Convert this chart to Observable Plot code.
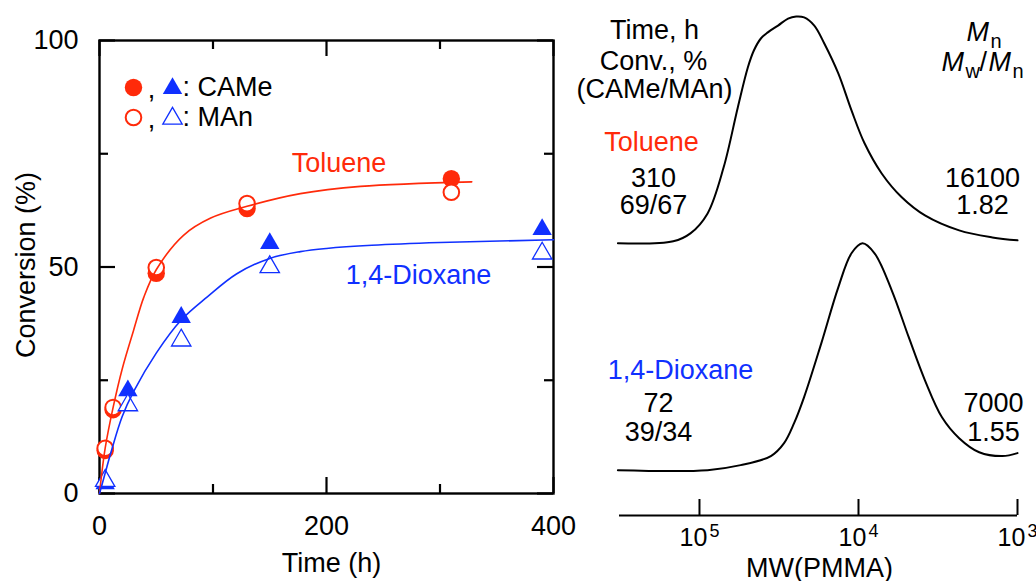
<!DOCTYPE html>
<html><head><meta charset="utf-8">
<script src="https://cdn.jsdelivr.net/npm/d3@7"></script>
<script src="https://cdn.jsdelivr.net/npm/@observablehq/plot@0.6"></script>
<style>
html,body{margin:0;padding:0;background:#fff;}
#chart{position:relative;width:1036px;height:581px;overflow:hidden;background:#fff;}
#chart svg{position:absolute;top:0;}
</style></head><body><div id="chart"></div>
<script>
// ---------- Left panel data: conversion vs time ----------
const tolTime = [5, 12, 50, 130, 310];
const tolCAMe = [9.5, 18.5, 48.6, 62.9, 69.5];
const tolMAn  = [10, 19, 49.9, 64, 66.5];
const dioxTime = [5, 25, 72, 150, 390];
const dioxCAMe = [2.2, 22.7, 38.9, 55.2, 58.3];
const dioxMAn  = [2.8, 19.5, 33.8, 50, 53];
// fitted curves
const tolFitTime = [0, 5, 12, 20, 30, 39, 50, 74, 98, 130, 177, 230, 328];
const tolFitConv = [0, 10, 19, 27.5, 36, 43.3, 49.4, 57, 60.8, 63.4, 66.2, 67.8, 68.8];
const dioxFitTime = [0, 5, 10, 20, 30, 50, 72, 95, 121, 150, 177, 200, 240, 300, 400];
const dioxFitConv = [0, 4.5, 9, 17, 22.5, 31, 38.3, 43.4, 48.5, 51.9, 53.4, 54.1, 54.8, 55.4, 56];
const xMajor = [0, 200, 400], xMinor = [100, 300];
const yMajor = [0, 50, 100], yMinor = [25, 75];
const legendRows = ["CAMe", "MAn"];
const solvents = ["Toluene", "1,4-Dioxane"];

// ---------- Right panel data: GPC traces ----------
const tolLogMW = [5.513,5.165,5.057,4.949,4.848,4.759,4.696,4.658,4.614,4.570,4.506,4.443,4.392,4.342,4.278,4.215,4.127,4.044,3.962,3.854,3.728,3.582,3.367,3.158,3.0];
const tolRI    = [0,0.009,0.044,0.132,0.335,0.599,0.775,0.85,0.903,0.93,0.96,0.991,1.0,0.996,0.96,0.881,0.749,0.586,0.441,0.308,0.203,0.123,0.057,0.026,0.013];
const dioxLogMW = [5.513,4.949,4.741,4.551,4.468,4.405,4.342,4.234,4.127,4.044,3.975,3.899,3.791,3.684,3.582,3.475,3.367,3.241,3.095,3.0];
const dioxRI    = [0,0,0.022,0.062,0.119,0.207,0.322,0.559,0.806,0.956,1.0,0.956,0.793,0.586,0.396,0.233,0.141,0.079,0.062,0.075];
const mwTicks = [1e5, 1e4, 1e3];
const mwTickExp = ["5", "4", "3"];
const headerLeft = ["Time, h", "Conv., %", "(CAMe/MAn)"];
const tolStats = ["310", "69/67"], tolMol = ["16100", "1.82"];
const dioxStats = ["72", "39/34"], dioxMol = ["7000", "1.55"];

const RED = "#ff2a0a", BLUE = "#1030ff";
const FONT = "'Liberation Sans', Arial, Helvetica, sans-serif";
const zip = (xs, ys) => xs.map((x, i) => ({x, y: ys[i]}));

// ---------- Left plot ----------
const LW = 580, LH = 581, LML = 99, LMR = 27, LMT = 40, LMB = 88;
const innerW = LW - LML - LMR, innerH = LH - LMT - LMB;
const major = 16, minor = 9;
const T = (s, o) => Plot.text([s], {text: d => d, frameAnchor: "top-left", textAnchor: "middle", lineAnchor: "middle", fontSize: 27, ...o});

const left = Plot.plot({
  width: LW, height: LH,
  marginLeft: LML, marginRight: LMR, marginTop: LMT, marginBottom: LMB,
  style: {fontFamily: FONT, fontSize: "27px", background: "transparent", overflow: "visible", color: "black"},
  x: {domain: [0, 400], ticks: xMajor, tickSize: 0, tickPadding: 22, label: null},
  y: {domain: [0, 100], ticks: yMajor, tickSize: 0, tickPadding: 21, label: null},
  marks: [
    // inward ticks
    Plot.ruleY(yMajor, {y: d => d, insetRight: innerW - major, stroke: "black", strokeWidth: 2.2}),
    Plot.ruleY(yMinor, {y: d => d, insetRight: innerW - minor, stroke: "black", strokeWidth: 2.2}),
    Plot.ruleY(yMajor, {y: d => d, insetLeft: innerW - major, stroke: "black", strokeWidth: 2.2}),
    Plot.ruleY(yMinor, {y: d => d, insetLeft: innerW - minor, stroke: "black", strokeWidth: 2.2}),
    Plot.ruleX(xMajor, {x: d => d, insetTop: innerH - major, stroke: "black", strokeWidth: 2.2}),
    Plot.ruleX(xMinor, {x: d => d, insetTop: innerH - minor, stroke: "black", strokeWidth: 2.2}),
    Plot.ruleX(xMajor, {x: d => d, insetBottom: innerH - major, stroke: "black", strokeWidth: 2.2}),
    Plot.ruleX(xMinor, {x: d => d, insetBottom: innerH - minor, stroke: "black", strokeWidth: 2.2}),
    Plot.frame({stroke: "black", strokeWidth: 2.4}),
    // filled markers (CAMe)
    Plot.dot(zip(tolTime, tolCAMe), {x: "x", y: "y", r: 8.7, fill: RED, stroke: "none"}),
    Plot.dot(zip(dioxTime, dioxCAMe), {x: "x", y: "y", r: 7.2, symbol: "triangle", fill: BLUE, stroke: "none"}),
    // open markers (MAn)
    Plot.dot(zip(tolTime, tolMAn), {x: "x", y: "y", r: 7.8, fill: "white", stroke: RED, strokeWidth: 2}),
    Plot.dot(zip(dioxTime, dioxMAn), {x: "x", y: "y", r: 7.2, symbol: "triangle", fill: "white", stroke: BLUE, strokeWidth: 1.3}),
    // fitted curves
    Plot.line(zip(tolFitTime, tolFitConv), {x: "x", y: "y", stroke: RED, strokeWidth: 1.6, curve: "catmull-rom"}),
    Plot.line(zip(dioxFitTime, dioxFitConv), {x: "x", y: "y", stroke: BLUE, strokeWidth: 1.6, curve: "catmull-rom"}),
    // curve labels
    Plot.text([solvents[0]], {x: [211], y: [72.8], text: d => d, fill: RED, fontSize: 27}),
    Plot.text([solvents[1]], {x: [281], y: [48.1], text: d => d, fill: BLUE, fontSize: 27}),
    // legend
    Plot.dot([0], {frameAnchor: "top-left", dx: 34, dy: 47, r: 8.7, fill: RED, stroke: "none"}),
    T(",", {dx: 52, dy: 49}),
    Plot.dot([0], {frameAnchor: "top-left", dx: 73, dy: 48, r: 7.2, symbol: "triangle", fill: BLUE, stroke: "none"}),
    T(": " + legendRows[0], {dx: 83, dy: 47, textAnchor: "start"}),
    Plot.dot([0], {frameAnchor: "top-left", dx: 34, dy: 77, r: 7.8, fill: "white", stroke: RED, strokeWidth: 2}),
    T(",", {dx: 52, dy: 79}),
    Plot.dot([0], {frameAnchor: "top-left", dx: 73, dy: 78, r: 7.2, symbol: "triangle", fill: "white", stroke: BLUE, strokeWidth: 1.3}),
    T(": " + legendRows[1], {dx: 83, dy: 77, textAnchor: "start"}),
    // axis titles
    Plot.text(["Conversion (%)"], {text: d => d, frameAnchor: "left", textAnchor: "middle", lineAnchor: "middle", dx: -73, dy: -2, rotate: -90, fontSize: 27}),
    Plot.text(["Time (h)"], {text: d => d, frameAnchor: "bottom", textAnchor: "middle", lineAnchor: "middle", dx: 5, dy: 70, fontSize: 27})
  ]
});
left.style.left = "0px";
document.getElementById("chart").appendChild(left);

// ---------- Right plot ----------
const RW = 456, RH = 581, RML = 39, RMR = 19, RMT = 16, RMB = 66;
const rInnerH = RH - RMT - RMB;
const right = Plot.plot({
  width: RW, height: RH,
  marginLeft: RML, marginRight: RMR, marginTop: RMT, marginBottom: RMB,
  style: {fontFamily: FONT, fontSize: "27px", background: "transparent", overflow: "visible", color: "black"},
  x: {type: "log", domain: [10 ** 5.503, 1e3], axis: null},
  y: {domain: [-0.2, 2], axis: null},
  marks: [
    Plot.line(zip(tolLogMW, tolRI), {x: d => 10 ** d.x, y: d => d.y + 1, stroke: "black", strokeWidth: 2, curve: "catmull-rom"}),
    Plot.line(zip(dioxLogMW, dioxRI), {x: d => 10 ** d.x, y: "y", stroke: "black", strokeWidth: 2, curve: "catmull-rom"}),
    Plot.ruleY([-0.2], {stroke: "black", strokeWidth: 2}),
    Plot.ruleX(mwTicks, {x: d => d, insetTop: rInnerH - 16, stroke: "black", strokeWidth: 2}),
    Plot.text(mwTicks, {x: d => d, text: () => "10", frameAnchor: "bottom", textAnchor: "middle", lineAnchor: "middle", dx: -6, dy: 22, fontSize: 25}),
    Plot.text(mwTicks, {x: d => d, text: (d, i) => mwTickExp[i], frameAnchor: "bottom", textAnchor: "middle", lineAnchor: "middle", dx: 15, dy: 16, fontSize: 18}),
    Plot.text(["MW(PMMA)"], {text: d => d, frameAnchor: "bottom", textAnchor: "middle", lineAnchor: "middle", dx: 1, dy: 53, fontSize: 27}),
    // left column annotations
    T(headerLeft[0], {dx: 35, dy: 14}),
    T(headerLeft[1], {dx: 34, dy: 45}),
    T(headerLeft[2], {dx: 35, dy: 73}),
    T(solvents[0], {dx: 32, dy: 126, fill: RED}),
    T(tolStats[0], {dx: 34, dy: 162}),
    T(tolStats[1], {dx: 34, dy: 189}),
    T(solvents[1], {dx: 61, dy: 354, fill: BLUE}),
    T(dioxStats[0], {dx: 39, dy: 387}),
    T(dioxStats[1], {dx: 39, dy: 416}),
    // right column annotations: Mn and Mw/Mn
    T("M", {dx: 347, dy: 16, textAnchor: "start", fontStyle: "italic"}),
    T("n", {dx: 371, dy: 25, textAnchor: "start", fontSize: 20}),
    T("M", {dx: 322, dy: 46, textAnchor: "start", fontStyle: "italic"}),
    T("w", {dx: 346, dy: 55, textAnchor: "start", fontSize: 20}),
    T("/", {dx: 360, dy: 46, textAnchor: "start"}),
    T("M", {dx: 369, dy: 46, textAnchor: "start", fontStyle: "italic"}),
    T("n", {dx: 393, dy: 55, textAnchor: "start", fontSize: 20}),
    T(tolMol[0], {dx: 363, dy: 162}),
    T(tolMol[1], {dx: 363, dy: 189}),
    T(dioxMol[0], {dx: 374, dy: 387}),
    T(dioxMol[1], {dx: 374, dy: 416})
  ]
});
right.style.left = "580px";
document.getElementById("chart").appendChild(right);
</script></body></html>
